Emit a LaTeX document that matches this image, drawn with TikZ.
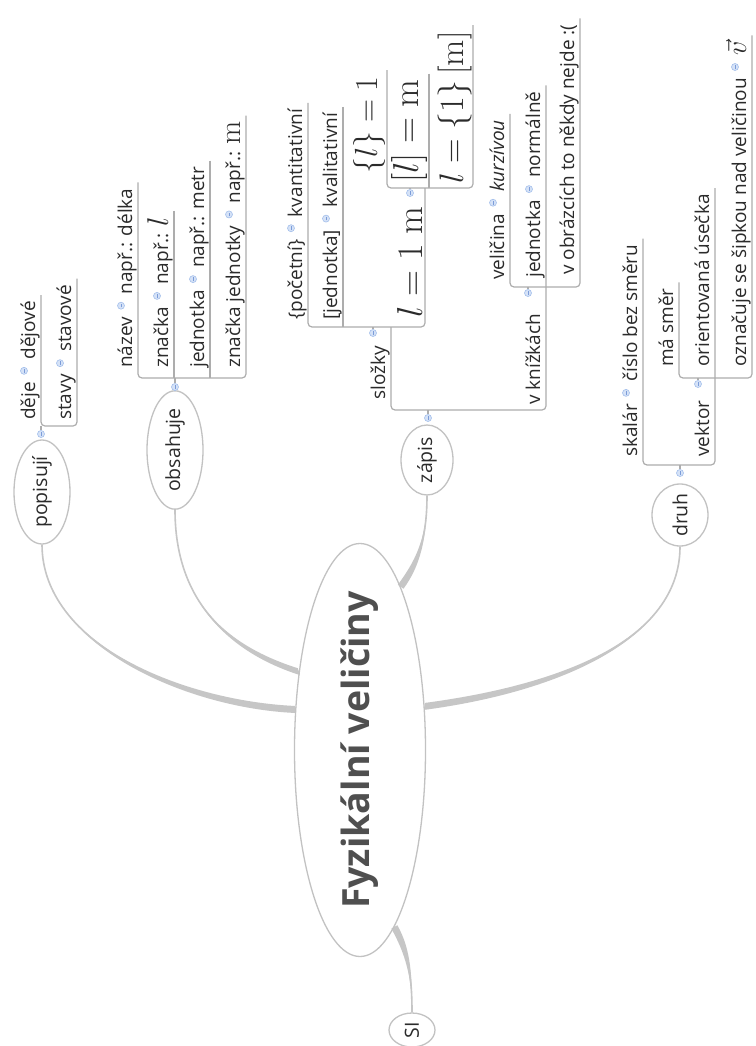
\RequirePackage{fix-cm}
\documentclass[tikz,border=0pt]{standalone}
\usepackage[no-math]{fontspec}
\setmainfont{Open Sans}
\usepackage{amsmath}
\usetikzlibrary{shapes.geometric,calc,backgrounds}
\definecolor{fvink}{HTML}{2B2B2B}
\definecolor{fvhead}{HTML}{4F4F4F}
\definecolor{fvrim}{HTML}{C2C2C2}
\definecolor{fvlimb}{HTML}{C6C6C6}
\definecolor{fvtie}{HTML}{ADADAD}
\definecolor{fvknob}{HTML}{D5E2F7}
\definecolor{fvknobrim}{HTML}{A3BFEB}
\definecolor{fvdash}{HTML}{7C9CD8}
\newcommand\fvsmall{\fontsize{19}{21}\selectfont}
\newcommand\fvtopic{\fontsize{19.5}{22}\selectfont}
\newcommand\fvhuge{\fontsize{37.5}{40}\selectfont\bfseries}
\newcommand\fvmath[1]{\fontsize{#1}{#1}\selectfont}
\tikzset{
  hub/.style   = {ellipse, draw=fvrim, line width=1.3pt, rotate=90, inner sep=0pt,
                  minimum width=413pt, minimum height=131pt, font=\fvhuge, text=fvhead},
  topic/.style = {ellipse, draw=fvrim, line width=1.3pt, rotate=90, inner sep=0pt,
                  font=\fvtopic, text=fvink},
  leaf/.style  = {rotate=90, anchor=base west, inner sep=0pt, font=\fvsmall, text=fvink},
  % collapse marker, `knob` because /tikz/mark is taken
  knob/.style  = {circle, draw=fvknobrim, fill=fvknob, line width=0.6pt,
                  minimum size=7pt, inner sep=0pt,
                  path picture={\draw[fvdash, line width=0.7pt]
                    ([yshift=-1.8pt]path picture bounding box.center) --
                    ([yshift=1.8pt]path picture bounding box.center);}},
  tie/.style   = {draw=fvtie, line width=1.2pt, rounded corners=4pt},
  limb/.style  = {fill=fvlimb},
  limbline/.style = {draw=fvlimb, line width=1.6pt},
}

\begin{document}
\begin{tikzpicture}[x=1pt, y=-1pt]
\begin{pgfonlayer}{background}
\fill[white] (0,0) rectangle (755,1046);
\end{pgfonlayer}
\useasboundingbox (0,0) rectangle (755,1046);

% centre and first level
\node[hub] (hub) at (360,750) {\makebox[220pt]{Fyzikální veličiny}};
\node[topic, minimum width=104pt, minimum height=56pt] (pop) at (42,492) {popisují};
\node[topic, minimum width=114pt, minimum height=56pt] (obs) at (175,450) {obsahuje};
\node[topic, minimum width=70pt, minimum height=52pt] (zap) at (427,460) {zápis};
\node[topic, minimum width=62pt, minimum height=56pt] (druh) at (680,515) {druh};
\node[topic, minimum width=34pt, minimum height=46pt] (si) at (412,1030) {SI};

% popisují
\node[knob] (kpop) at (41,434) {};
\coordinate (bP) at (41,426);
\node[leaf] (dej) at (35,420) {děje};
\node[knob] (kdej) at ($(dej.base east)+(-11,-11)$) {};
\node[leaf] (dejv) at ($(kdej.center)+(11,-11)$) {dějové};
\node[leaf] (sta) at (71,420) {stavy};
\node[knob] (ksta) at ($(sta.base east)+(-11,-11)$) {};
\node[leaf] (stav) at ($(ksta.center)+(11,-11)$) {stavové};

% obsahuje
\node[knob] (kobs) at (175,387) {};
\coordinate (bO) at (138,378);
\node[leaf] (naz) at (132,368) {název};
\node[knob] (knaz) at ($(naz.base east)+(-11,-11)$) {};
\node[leaf] (nazd) at ($(knaz.center)+(11,-11)$) {např.: délka};
\node[leaf] (zna) at (168,368) {značka};
\node[knob] (kzna) at ($(zna.base east)+(-11,-11)$) {};
\node[leaf] (znal) at ($(kzna.center)+(11,-11)$) {např.: {\fvmath{30}$l$}};
\node[leaf] (jed) at (204,368) {jednotka};
\node[knob] (kjed) at ($(jed.base east)+(-11,-11)$) {};
\node[leaf] (jedm) at ($(kjed.center)+(11,-11)$) {např.: metr};
\node[leaf] (zje) at (240,368) {značka jednotky};
\node[knob] (kzje) at ($(zje.base east)+(-11,-11)$) {};
\node[leaf] (zjem) at ($(kzje.center)+(11,-11)$) {např.: {\fvmath{30}$\mathrm{m}$}};

% zápis
\node[knob] (kzap) at (428,418) {};
\coordinate (bZ) at (391,410);
\node[leaf] (slo) at (385,400) {složky};
\node[knob] (kslo) at (373,333) {};
\coordinate (bS) at (308,327);
\node[leaf] (poc) at (302,320) {\{početní\}};
\node[knob] (kpoc) at ($(poc.base east)+(-11,-11)$) {};
\node[leaf] (kvan) at ($(kpoc.center)+(11,-11)$) {kvantitativní};
\node[leaf] (jdn) at (337,320) {[jednotka]};
\node[knob] (kjdn) at ($(jdn.base east)+(-11,-11)$) {};
\node[leaf] (kval) at ($(kjdn.center)+(11,-11)$) {kvalitativní};
\node[leaf, font=\fvmath{36}] (lm) at (422,318) {$l = 1\ \mathrm{m}$};
\node[knob] (klm) at (410,193) {};
\coordinate (bL) at (387,188);
\coordinate (ulm) at (425,188);
\node[leaf, font=\fvmath{32}] (num) at (377,174) {$\{l\} = 1$};
\node[leaf, font=\fvmath{36}] (sq) at (418,183) {$[l] = \mathrm{m}$};
\node[leaf, font=\fvmath{34}] (whole) at (463,184) {$l = \{1\}\,[\mathrm{m}]$};
\node[leaf] (kni) at (540,405) {v knížkách};
\node[knob] (kkni) at (528,293) {};
\coordinate (bK) at (510,287);
\node[leaf] (vel) at (504,280) {veličina};
\node[knob] (kvel) at ($(vel.base east)+(-11,-11)$) {};
\node[leaf] (kur) at ($(kvel.center)+(11,-11)$) {\itshape kurzívou};
\node[leaf] (jdk) at (540,278) {jednotka};
\node[knob] (kjdk) at ($(jdk.base east)+(-11,-11)$) {};
\node[leaf] (nor) at ($(kjdk.center)+(11,-11)$) {normálně};
\node[leaf] (obr) at (574,275) {v obrázcích to někdy nejde :(};

% druh
\node[knob] (kdru) at (680,473) {};
\coordinate (bD) at (643,465);
\node[leaf] (ska) at (637,457) {skalár};
\node[knob] (kska) at ($(ska.base east)+(-11,-11)$) {};
\node[leaf] (cis) at ($(kska.center)+(11,-11)$) {číslo bez směru};
\node[leaf] (vek) at (709,457) {vektor};
\node[knob] (kvek) at (698,384) {};
\coordinate (bV) at (679,378);
\node[leaf] (mas) at (673,367) {má směr};
\node[leaf] (ori) at (709,367) {orientovaná úsečka};
\node[leaf] (ozn) at (746,367) {označuje se šipkou nad veličinou};
\node[knob] (kozn) at ($(ozn.base east)+(-11,-11)$) {};
\node[leaf, font=\fvmath{28}] (vv) at ($(kozn.center)+(11,-11)$) {$\vec{v}$};

% underline ends
\coordinate (tdej) at ($(dejv.base east)+(6,-6)$);
\coordinate (tsta) at ($(stav.base east)+(6,-6)$);
\coordinate (tnaz) at ($(nazd.base east)+(6,-6)$);
\coordinate (tzna) at ($(znal.base east)+(6,-6)$);
\coordinate (tjed) at ($(jedm.base east)+(6,-6)$);
\coordinate (tzje) at ($(zjem.base east)+(6,-6)$);
\coordinate (tkvan) at ($(kvan.base east)+(6,-6)$);
\coordinate (tkval) at ($(kval.base east)+(6,-6)$);
\coordinate (tnum) at ($(387,0 |- num.east)+(0,-6)$);
\coordinate (tsq) at ($(429,0 |- sq.east)+(0,-6)$);
\coordinate (twhole) at ($(473,0 |- whole.east)+(0,-6)$);
\coordinate (tkur) at ($(kur.base east)+(6,-6)$);
\coordinate (tnor) at ($(nor.base east)+(6,-6)$);
\coordinate (tobr) at ($(obr.base east)+(6,-6)$);
\coordinate (tcis) at ($(cis.base east)+(6,-6)$);
\coordinate (tori) at ($(ori.base east)+(6,-6)$);
\coordinate (tmas) at ($(mas.base east)+(6,-6)$);
\coordinate (tvv) at ($(vv.base east)+(6,-6)$);

\begin{pgfonlayer}{background}
% tapered main branches
\fill[limb] (pop.west) .. controls +(0,100) and +(-110,-5) .. ($(hub.58)+(0,-3.5)$)
  -- ($(hub.58)+(0,3.5)$) .. controls +(-110,-5) and +(0,100) .. (pop.west) -- cycle;
\draw[limbline] (pop.west) .. controls +(0,100) and +(-110,-5) .. (hub.58);
\fill[limb] (obs.west) .. controls +(0,93) and +(-69,-22) .. ($(hub.38)+(-1,-3.4)$)
  -- ($(hub.38)+(1,3.4)$) .. controls +(-69,-22) and +(0,93) .. (obs.west) -- cycle;
\draw[limbline] (obs.west) .. controls +(0,93) and +(-69,-22) .. (hub.38);
\fill[limb] (zap.west) .. controls +(0,45) and +(16,-22) .. ($(hub.346)+(-2.8,-2)$)
  -- ($(hub.346)+(2.8,2)$) .. controls +(16,-22) and +(0,45) .. (zap.west) -- cycle;
\draw[limbline] (zap.west) .. controls +(0,45) and +(16,-22) .. (hub.346);
\fill[limb] (druh.west) .. controls +(0,93) and +(135,-18) .. ($(hub.304)+(0.5,-3.5)$)
  -- ($(hub.304)+(-0.5,3.5)$) .. controls +(135,-18) and +(0,93) .. (druh.west) -- cycle;
\draw[limbline] (druh.west) .. controls +(0,93) and +(135,-18) .. (hub.304);
\fill[limb] ($(hub.191)+(-3,1.7)$) .. controls +(14,25) and +(0,-35) .. (si.east)
  .. controls +(0,-35) and +(14,25) .. ($(hub.191)+(3,-1.7)$) -- cycle;
\draw[limbline] (hub.191) .. controls +(14,25) and +(0,-35) .. (si.east);

% tree lines
\draw[tie] (tdej) -- (bP) -- (bP -| tsta) -- (tsta);
\draw[tie] (kpop) -- (bP);
\draw[tie] (tnaz) -- (bO) -- (bO -| tzje) -- (tzje);
\draw[tie] (tzna) -- (tzna |- bO);
\draw[tie] (tjed) -- (tjed |- bO);
\draw[tie] (kobs) -- (kobs |- bO);
\draw[tie] (bZ |- bS) -- (bZ) -- (bZ -| tnor) -- (tnor);
\draw[tie] (kzap) -- (kzap |- bZ);
\draw[tie] (tkvan) -- (bS) -- (bS -| ulm) -- (ulm);
\draw[tie] (tkval) -- (tkval |- bS);
\draw[tie] (kslo) -- (kslo |- bS);
\draw[tie] (tnum) -- (bL) -- (bL -| twhole) -- (twhole);
\draw[tie] (tsq) -- (tsq |- bL);
\draw[tie] (klm) -- (klm |- bL);
\draw[tie] (tkur) -- (bK) -- (bK -| tobr) -- (tobr);
\draw[tie] (kkni) -- (kkni |- bK);
\draw[tie] (tcis) -- (bD) -- (bD -| tori) -- (tori);
\draw[tie] (kdru) -- (kdru |- bD);
\draw[tie] (tmas) -- (bV) -- (bV -| tvv) -- (tvv);
\draw[tie] (kvek) -- (kvek |- bV);
\end{pgfonlayer}
\end{tikzpicture}
\end{document}
